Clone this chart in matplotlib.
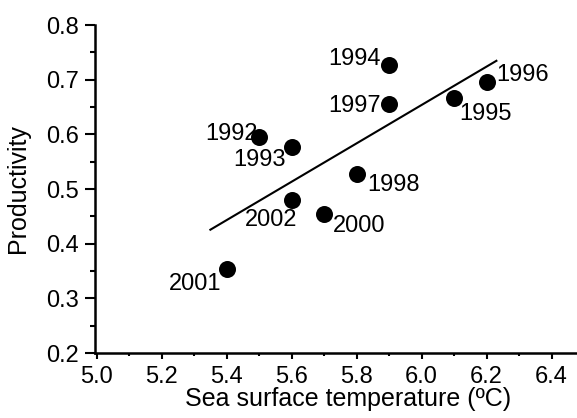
import numpy as np
import matplotlib
matplotlib.use("Agg")
import matplotlib.pyplot as plt
from matplotlib.ticker import MultipleLocator

plt.rcParams['font.family'] = ['Liberation Sans', 'DejaVu Sans']

years = ["1992", "1993", "1994", "1995", "1996", "1997", "1998", "2000", "2001", "2002"]
sst = [5.5, 5.6, 5.9, 6.1, 6.2, 5.9, 5.8, 5.7, 5.4, 5.6]
productivity = [0.596, 0.576, 0.727, 0.666, 0.695, 0.655, 0.527, 0.455, 0.354, 0.479]
fit_range = [5.35, 6.23]
xtick_labels = ["5.0", "5.2", "5.4", "5.6", "5.8", "6.0", "6.2", "6.4"]
ytick_labels = ["0.2", "0.3", "0.4", "0.5", "0.6", "0.7", "0.8"]

# label offsets (points) and alignment per year
label_offsets = {
    "1992": (-1, 2, "right"),
    "1993": (-4, -9, "right"),
    "1994": (-6, 4, "right"),
    "1995": (4, -11, "left"),
    "1996": (7, 5, "left"),
    "1997": (-6, -1, "right"),
    "1998": (8, -8, "left"),
    "2000": (6, -9, "left"),
    "2001": (-4, -11, "right"),
    "2002": (-15, -14, "center"),
}

fig = plt.figure(figsize=(5.77, 4.18), dpi=100)
ax = fig.add_axes([95/577, 1-353/418, 1-95/577, (353-25)/418])

ax.scatter(sst, productivity, s=150, color='black', zorder=3, linewidths=0)

slope, intercept = np.polyfit(sst, productivity, 1)
xf = np.array(fit_range)
ax.plot(xf, slope*xf + intercept, color='black', lw=1.5)

for yr, x, y in zip(years, sst, productivity):
    dx, dy, ha = label_offsets[yr]
    ax.annotate(yr, (x, y), xytext=(dx, dy), textcoords='offset points',
                ha=ha, va='center', fontsize=17)

ax.set_xlim(4.995, 6.478)
ax.set_ylim(0.2, 0.8)
ax.set_xticks(np.arange(5.0, 6.41, 0.2))
ax.set_xticklabels(xtick_labels)
ax.set_yticks(np.arange(0.2, 0.81, 0.1))
ax.set_yticklabels(ytick_labels)
ax.xaxis.set_minor_locator(MultipleLocator(0.1))
ax.yaxis.set_minor_locator(MultipleLocator(0.05))

for s in ['top', 'right']:
    ax.spines[s].set_visible(False)
for s in ['left', 'bottom']:
    ax.spines[s].set_linewidth(1.8)

ax.tick_params(axis='y', which='major', length=7, width=1.5, labelsize=17, pad=4.5)
ax.tick_params(axis='y', which='minor', length=3.5, width=1.5)
ax.tick_params(axis='x', which='major', length=4.5, width=1.5, labelsize=17, pad=5)
ax.tick_params(axis='x', which='minor', length=2.5, width=1.5)

ax.set_xlabel("Sea surface temperature (ºC)", fontsize=18)
ax.xaxis.set_label_coords((348-95)/(577-95), -0.105)
ax.set_ylabel("Productivity", fontsize=18)
ax.yaxis.set_label_coords(-0.135, 0.5)

fig.savefig("out.png", dpi=100)
